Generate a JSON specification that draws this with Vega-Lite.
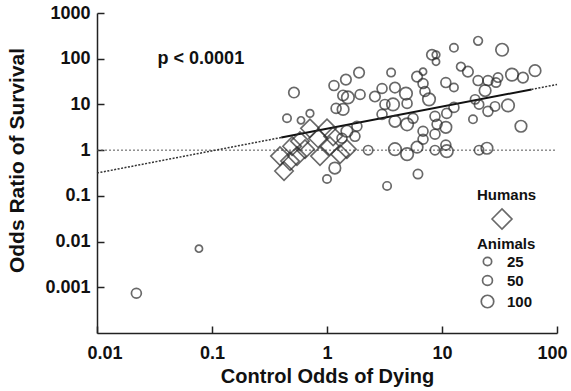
{
  "$schema": "https://vega.github.io/schema/vega-lite/v6.json",
  "width": 460,
  "height": 320,
  "autosize": {"type": "none"},
  "padding": {"left": 97, "top": 13, "right": 14, "bottom": 58},
  "background": "white",
  "config": {
    "view": {"stroke": null},
    "font": "Liberation Sans",
    "axis": {
      "grid": false,
      "domainColor": "#222",
      "domainWidth": 1.5,
      "tickColor": "#222",
      "tickWidth": 1.5,
      "tickSize": -7,
      "labelFont": "Liberation Sans",
      "labelFontSize": 18,
      "labelFontWeight": "bold",
      "labelColor": "#111",
      "titleFont": "Liberation Sans",
      "titleFontWeight": "bold",
      "titleColor": "#111"
    },
    "legend": {
      "titleFont": "Liberation Sans",
      "titleFontSize": 15,
      "titleFontWeight": "bold",
      "titleColor": "#111",
      "labelFont": "Liberation Sans",
      "labelFontSize": 15,
      "labelFontWeight": "bold",
      "labelColor": "#111"
    }
  },
  "encoding": {
    "x": {
      "field": "x",
      "type": "quantitative",
      "scale": {"type": "log", "domain": [0.01, 100], "nice": false},
      "axis": {
        "title": "Control Odds of Dying",
        "titleFontSize": 20,
        "titleBaseline": "top",
        "titleY": 33,
        "values": [0.01, 0.1, 1, 10, 100],
        "format": "~g",
        "labelPadding": 18,
        "labelFlush": true,
        "labelFlushOffset": 10,
        "labelOverlap": false
      }
    },
    "y": {
      "field": "y",
      "type": "quantitative",
      "scale": {"type": "log", "domain": [0.0001, 1000], "nice": false},
      "axis": {
        "title": "Odds Ratio of Survival",
        "titleFontSize": 21,
        "titleX": -70,
        "titleY": 147,
        "values": [0.001, 0.01, 0.1, 1, 10, 100, 1000],
        "format": "~g",
        "labelPadding": 14,
        "labelOverlap": false
      }
    }
  },
  "layer": [
    {
      "data": {"values": [{"x": 0.01, "y": 1}, {"x": 100, "y": 1}]},
      "mark": {"type": "line", "stroke": "#555", "strokeWidth": 1, "strokeDash": [2, 2]},
      "encoding": {}
    },
    {
      "data": {"values": [{"x": 0.01, "y": 0.316}, {"x": 0.4, "y": 1.89}]},
      "mark": {"type": "line", "stroke": "#333", "strokeWidth": 1.5, "strokeDash": [2, 1.5]},
      "encoding": {}
    },
    {
      "data": {"values": [{"x": 60, "y": 21.3}, {"x": 100, "y": 27.3}]},
      "mark": {"type": "line", "stroke": "#333", "strokeWidth": 1.5, "strokeDash": [2, 1.5]},
      "encoding": {}
    },
    {
      "data": {"values": [{"x": 0.4, "y": 1.89}, {"x": 60, "y": 21.3}]},
      "mark": {"type": "line", "stroke": "#111", "strokeWidth": 2},
      "encoding": {}
    },
    {
      "data": {"values": [
        {"x": 20.6, "y": 246, "n": 30},
        {"x": 12.7, "y": 173, "n": 25},
        {"x": 33.3, "y": 157, "n": 100},
        {"x": 8.18, "y": 122, "n": 60},
        {"x": 8.87, "y": 122, "n": 15},
        {"x": 8.87, "y": 86, "n": 10},
        {"x": 14.6, "y": 67, "n": 30},
        {"x": 16.8, "y": 52, "n": 60},
        {"x": 64.4, "y": 54.8, "n": 80},
        {"x": 40.6, "y": 44.9, "n": 100},
        {"x": 50.6, "y": 38.6, "n": 60},
        {"x": 30.7, "y": 38.6, "n": 40},
        {"x": 25.1, "y": 33.3, "n": 50},
        {"x": 20.6, "y": 33.3, "n": 50},
        {"x": 29.5, "y": 30.1, "n": 40},
        {"x": 23.7, "y": 20.1, "n": 80},
        {"x": 19.4, "y": 12.9, "n": 40},
        {"x": 21.0, "y": 10, "n": 40},
        {"x": 25.1, "y": 7.05, "n": 50},
        {"x": 28.9, "y": 9.06, "n": 40},
        {"x": 37.5, "y": 9.51, "n": 100},
        {"x": 18.6, "y": 4.72, "n": 25},
        {"x": 48.6, "y": 3.33, "n": 80},
        {"x": 24.6, "y": 1.1, "n": 80},
        {"x": 21.0, "y": 1.0, "n": 40},
        {"x": 3.61, "y": 49.7, "n": 25},
        {"x": 1.9, "y": 49.7, "n": 60},
        {"x": 1.46, "y": 34.9, "n": 60},
        {"x": 1.15, "y": 25.9, "n": 50},
        {"x": 0.516, "y": 18.2, "n": 60},
        {"x": 1.94, "y": 16.5, "n": 50},
        {"x": 1.52, "y": 14.2, "n": 100},
        {"x": 1.38, "y": 15.7, "n": 60},
        {"x": 1.2, "y": 8.18, "n": 50},
        {"x": 1.38, "y": 7.78, "n": 80},
        {"x": 0.449, "y": 4.97, "n": 25},
        {"x": 0.711, "y": 6.37, "n": 15},
        {"x": 0.594, "y": 4.49, "n": 10},
        {"x": 2.61, "y": 14.9, "n": 60},
        {"x": 3.01, "y": 22.3, "n": 50},
        {"x": 3.9, "y": 23.4, "n": 60},
        {"x": 4.86, "y": 17.3, "n": 100},
        {"x": 6.07, "y": 40.6, "n": 60},
        {"x": 6.84, "y": 52.1, "n": 10},
        {"x": 6.84, "y": 28.6, "n": 50},
        {"x": 7.11, "y": 19.2, "n": 50},
        {"x": 7.71, "y": 12.9, "n": 100},
        {"x": 10.8, "y": 30.1, "n": 50},
        {"x": 12.7, "y": 23.4, "n": 25},
        {"x": 3.75, "y": 10, "n": 100},
        {"x": 3.19, "y": 10, "n": 50},
        {"x": 4.97, "y": 10.5, "n": 50},
        {"x": 3.01, "y": 6.07, "n": 50},
        {"x": 3.9, "y": 4.27, "n": 80},
        {"x": 4.97, "y": 3.67, "n": 100},
        {"x": 5.6, "y": 4.97, "n": 50},
        {"x": 8.69, "y": 5.48, "n": 50},
        {"x": 11.0, "y": 6.37, "n": 50},
        {"x": 12.7, "y": 8.61, "n": 50},
        {"x": 9.06, "y": 3.67, "n": 50},
        {"x": 10.8, "y": 3.16, "n": 80},
        {"x": 6.84, "y": 2.59, "n": 50},
        {"x": 8.69, "y": 2.23, "n": 50},
        {"x": 6.84, "y": 1.73, "n": 50},
        {"x": 6.07, "y": 1.16, "n": 80},
        {"x": 3.9, "y": 1.05, "n": 100},
        {"x": 4.97, "y": 0.818, "n": 100},
        {"x": 8.69, "y": 1.0, "n": 40},
        {"x": 11.0, "y": 0.95, "n": 100},
        {"x": 10.8, "y": 1.29, "n": 50},
        {"x": 2.28, "y": 1.0, "n": 40},
        {"x": 1.49, "y": 2.59, "n": 80},
        {"x": 1.75, "y": 2.01, "n": 50},
        {"x": 1.35, "y": 1.82, "n": 50},
        {"x": 1.82, "y": 3.33, "n": 50},
        {"x": 1.17, "y": 0.406, "n": 80},
        {"x": 1.0, "y": 0.234, "n": 25},
        {"x": 6.18, "y": 0.3, "n": 40},
        {"x": 3.33, "y": 0.165, "n": 25},
        {"x": 0.077, "y": 0.007, "n": 10},
        {"x": 0.022, "y": 0.00074, "n": 50}
      ]},
      "mark": {"type": "point", "shape": "circle", "filled": false, "color": "#2a2a2a", "strokeWidth": 1.7},
      "encoding": {
        "size": {
          "field": "n",
          "type": "quantitative",
          "scale": {"domain": [0, 250], "range": [40, 330]},
          "legend": {
            "title": "Animals",
            "values": [25, 50, 100],
            "orient": "none",
            "legendX": 380,
            "legendY": 224,
            "direction": "vertical",
            "titlePadding": 2,
            "symbolOffset": 3,
            "labelOffset": 12,
            "rowPadding": 2,
            "symbolStrokeWidth": 1.7
          }
        }
      }
    },
    {
      "data": {"values": [
        {"x": 0.423, "y": 0.349, "group": "Humans"},
        {"x": 0.39, "y": 0.741, "group": "Humans"},
        {"x": 0.497, "y": 1.22, "group": "Humans"},
        {"x": 0.548, "y": 0.741, "group": "Humans"},
        {"x": 0.644, "y": 1.05, "group": "Humans"},
        {"x": 0.711, "y": 3.0, "group": "Humans"},
        {"x": 0.836, "y": 1.82, "group": "Humans"},
        {"x": 1.0, "y": 3.0, "group": "Humans"},
        {"x": 1.06, "y": 1.22, "group": "Humans"},
        {"x": 1.13, "y": 2.01, "group": "Humans"},
        {"x": 1.49, "y": 1.05, "group": "Humans"},
        {"x": 1.3, "y": 0.818, "group": "Humans"},
        {"x": 0.582, "y": 1.57, "group": "Humans"},
        {"x": 0.869, "y": 0.741, "group": "Humans"},
        {"x": 0.477, "y": 0.577, "group": "Humans"}
      ]},
      "mark": {"type": "point", "filled": false, "color": "#2a2a2a", "strokeWidth": 1.6, "size": 340},
      "encoding": {
        "shape": {
          "field": "group",
          "type": "nominal",
          "scale": {"domain": ["Humans"], "range": ["diamond"]},
          "legend": {
            "title": "Humans",
            "labelExpr": "''",
            "orient": "none",
            "legendX": 380,
            "legendY": 175,
            "symbolOffset": 14,
            "symbolSize": 400,
            "symbolStrokeWidth": 1.6
          }
        }
      }
    },
    {
      "data": {"values": [{"x": 0.08, "y": 100, "label": "p < 0.0001"}]},
      "mark": {"type": "text", "font": "Liberation Sans", "fontSize": 18, "fontWeight": "bold", "color": "#111"},
      "encoding": {"text": {"field": "label"}}
    }
  ]
}
